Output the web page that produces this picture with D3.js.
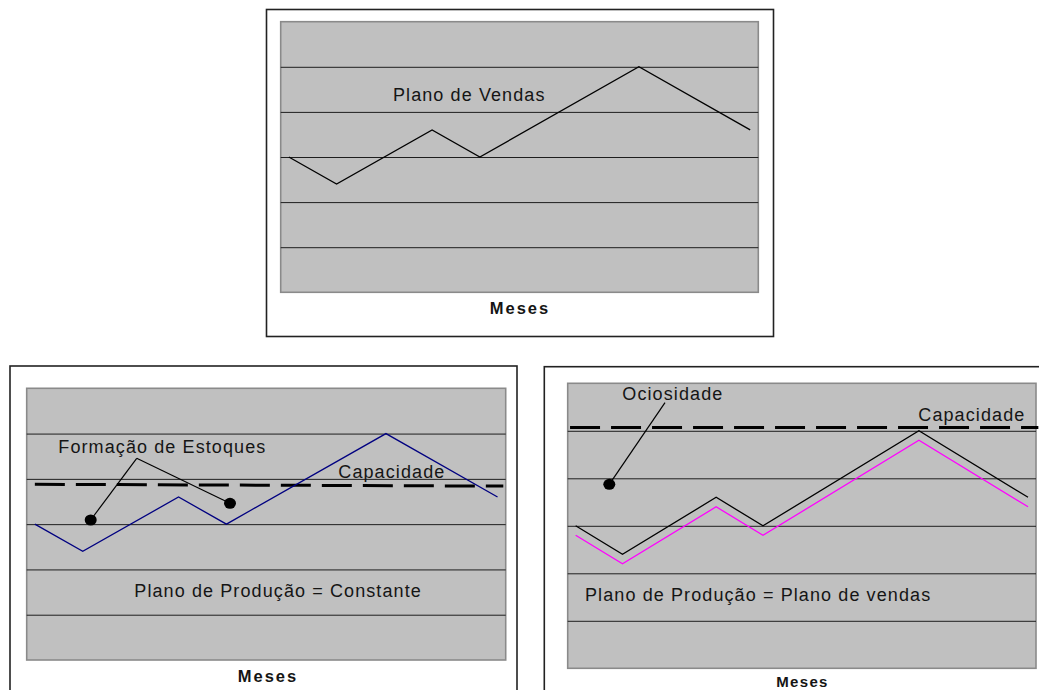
<!DOCTYPE html>
<html>
<head>
<meta charset="utf-8">
<script src="https://cdn.jsdelivr.net/npm/d3@7"></script>
<style>
  html, body { margin: 0; padding: 0; background: #fff; }
  svg { display: block; }
  text { font-family: "Liberation Sans", Arial, sans-serif; fill: #151515; }
</style>
</head>
<body>
<svg id="chart" width="1039" height="690"></svg>
<script>
// Month positions along the horizontal axis (0–10 span)
const monthPos = [0.17, 1.17, 3.17, 4.17, 7.5, 9.83];
// Sales plan (in grid units, 0–6)
const salesPlan = [3.0, 2.4, 3.6, 3.0, 5.0, 3.6];
// Production following the sales plan
const productionPlan = [2.8, 2.2, 3.4, 2.8, 4.8, 3.4];
// Capacity lines: [x, level] endpoints
const capacityConstant = [[0.17, 3.88], [9.95, 3.84]];
const capacityFollow = [[0.05, 5.07], [10.05, 5.07]];
// Horizontal gridline levels
const gridLevels = [1, 2, 3, 4, 5];

const svg = d3.select("#chart");

function panel(cfg) {
  const g = svg.append("g");
  // outer frame
  g.append("rect")
    .attr("x", cfg.frame.x).attr("y", cfg.frame.y)
    .attr("width", cfg.frame.w).attr("height", cfg.frame.h)
    .attr("fill", "#fff").attr("stroke", "#222").attr("stroke-width", 1.6);

  const x = d3.scaleLinear().domain([0, 10]).range([cfg.plot.x, cfg.plot.x + cfg.plot.w]);
  const y = d3.scaleLinear().domain([0, 6]).range([cfg.plot.y + cfg.plot.h, cfg.plot.y]);

  g.append("rect")
    .attr("x", cfg.plot.x).attr("y", cfg.plot.y)
    .attr("width", cfg.plot.w).attr("height", cfg.plot.h)
    .attr("fill", "#c0c0c0").attr("stroke", "#8a8a8a").attr("stroke-width", 1.6);

  // gridlines via a d3 axis with full-width ticks
  const axis = d3.axisLeft(y).tickValues(gridLevels).tickSize(-cfg.plot.w).tickFormat("");
  const ga = g.append("g").attr("transform", `translate(${cfg.plot.x},0)`).call(axis);
  ga.select(".domain").remove();
  ga.selectAll(".tick line").attr("stroke", "#1e1e1e").attr("stroke-width", 1);

  const line = d3.line().x(d => x(d[0])).y(d => y(d[1]));
  return { g, x, y, line };
}

function label(g, px, py, txt, opts = {}) {
  return g.append("text")
    .attr("x", px).attr("y", py)
    .attr("font-size", opts.size || 18)
    .attr("font-weight", opts.bold ? "bold" : "normal")
    .attr("letter-spacing", opts.ls != null ? opts.ls : 1.1)
    .attr("text-anchor", opts.anchor || "start")
    .text(txt);
}

// ---- Top: sales plan ----
{
  const p = panel({
    frame: { x: 266.5, y: 9.5, w: 507, h: 327 },
    plot: { x: 280.7, y: 21.7, w: 477.6, h: 270.6 }
  });
  p.g.append("path")
    .attr("d", p.line(monthPos.map((m, i) => [m, salesPlan[i]])))
    .attr("fill", "none").attr("stroke", "#000").attr("stroke-width", 1.3);
  label(p.g, p.x(2.35), p.y(4.25), "Plano de Vendas");
  label(p.g, 520, 313.5, "Meses", { bold: true, size: 16.5, ls: 2, anchor: "middle" });
}

// ---- Bottom left: constant production ----
{
  const p = panel({
    frame: { x: 10, y: 366, w: 507, h: 360 },
    plot: { x: 26.7, y: 388.3, w: 479, h: 271.7 }
  });
  p.g.append("path")
    .attr("d", p.line(capacityConstant))
    .attr("fill", "none").attr("stroke", "#000").attr("stroke-width", 3)
    .attr("stroke-dasharray", "30 11");
  p.g.append("path")
    .attr("d", p.line(monthPos.map((m, i) => [m, salesPlan[i]])))
    .attr("fill", "none").attr("stroke", "#000080").attr("stroke-width", 1.3);

  // callout for inventory build-up
  const vx = 136.7, vy = 458.3;
  const dots = [[90.7, 520], [230, 503.3]];
  dots.forEach(d => {
    p.g.append("line").attr("x1", vx).attr("y1", vy).attr("x2", d[0]).attr("y2", d[1])
      .attr("stroke", "#000").attr("stroke-width", 1.2);
    p.g.append("ellipse").attr("cx", d[0]).attr("cy", d[1]).attr("rx", 6).attr("ry", 5.5).attr("fill", "#000");
  });
  label(p.g, 58.3, 452.7, "Formação de Estoques");
  label(p.g, 338.3, 478.3, "Capacidade");
  label(p.g, 134.3, 596.7, "Plano de Produção = Constante");
  label(p.g, 268, 681.7, "Meses", { bold: true, size: 16.5, ls: 2, anchor: "middle" });
}

// ---- Bottom right: production follows sales ----
{
  const p = panel({
    frame: { x: 544.3, y: 366.7, w: 520, h: 360 },
    plot: { x: 567.7, y: 383.3, w: 468.3, h: 285 }
  });
  p.g.append("path")
    .attr("d", p.line(capacityFollow))
    .attr("fill", "none").attr("stroke", "#000").attr("stroke-width", 3)
    .attr("stroke-dasharray", "30 11");
  p.g.append("path")
    .attr("d", p.line(monthPos.map((m, i) => [m, salesPlan[i]])))
    .attr("fill", "none").attr("stroke", "#000").attr("stroke-width", 1.3);
  p.g.append("path")
    .attr("d", p.line(monthPos.map((m, i) => [m, productionPlan[i]])))
    .attr("fill", "none").attr("stroke", "#ff00ff").attr("stroke-width", 1.3);

  p.g.append("line").attr("x1", 665).attr("y1", 402.7).attr("x2", 609.3).attr("y2", 484.3)
    .attr("stroke", "#000").attr("stroke-width", 1.2);
  p.g.append("ellipse").attr("cx", 609.3).attr("cy", 484.3).attr("rx", 6).attr("ry", 5.5).attr("fill", "#000");

  label(p.g, 622.3, 400, "Ociosidade");
  label(p.g, 918.3, 421, "Capacidade");
  label(p.g, 585, 600.7, "Plano de Produção = Plano de vendas");
  label(p.g, 802.5, 686.7, "Meses", { bold: true, size: 15, ls: 1.3, anchor: "middle" });
}
</script>
</body>
</html>
